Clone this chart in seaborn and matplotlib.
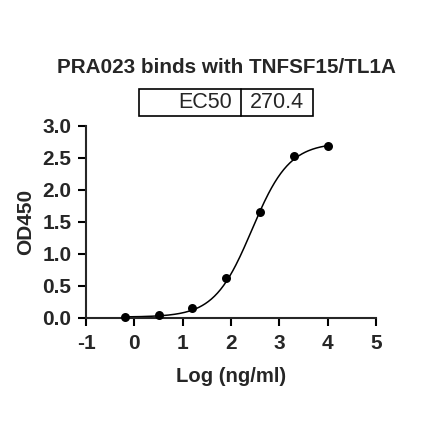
import numpy as np
import pandas as pd
import matplotlib
matplotlib.use("Agg")
import matplotlib.pyplot as plt
from matplotlib.patches import Rectangle
import seaborn as sns

# ── Data ─────────────────────────────────────────────────────────────
log_conc = [-0.2, 0.5, 1.2, 1.9, 2.6, 3.3, 4.0]
od450 = [0.01, 0.04, 0.15, 0.62, 1.65, 2.53, 2.68]

# 4PL fit parameters (EC50 from the chart)
ec50 = 270.4
fit_bottom = 0.01
fit_top = 2.74
fit_hill = 1.12

x_ticks = [-1, 0, 1, 2, 3, 4, 5]
y_ticks = [0.0, 0.5, 1.0, 1.5, 2.0, 2.5, 3.0]

TITLE = "PRA023 binds with TNFSF15/TL1A"
FONT = "Liberation Sans"


def four_pl(x):
    return fit_bottom + (fit_top - fit_bottom) / (1 + 10 ** ((np.log10(ec50) - x) * fit_hill))


def main():
    sns.set_style("ticks")
    plt.rcParams["font.family"] = [FONT, "DejaVu Sans"]

    pts = pd.DataFrame({"x": log_conc, "y": od450})
    xs = np.linspace(min(log_conc), max(log_conc), 200)
    curve = pd.DataFrame({"x": xs, "y": four_pl(xs)})

    fig = plt.figure(figsize=(4.4, 4.41), dpi=100)
    ax = fig.add_axes([0.1955, 0.2796, 0.659, 0.4347])

    sns.lineplot(data=curve, x="x", y="y", color="black", lw=1.1, ax=ax)
    sns.scatterplot(data=pts, x="x", y="y", color="black", s=42,
                    edgecolor="black", linewidth=0, zorder=3, clip_on=False, ax=ax)

    ax.set_xlim(-1, 5); ax.set_ylim(0, 3)
    ax.set_xticks(x_ticks); ax.set_yticks(y_ticks)
    ax.set_xticklabels([str(t) for t in x_ticks], fontsize=15, fontweight="bold")
    ax.set_yticklabels([f"{t:.1f}" for t in y_ticks], fontsize=15, fontweight="bold")
    ax.set_xlabel("Log (ng/ml)", fontsize=14.6, fontweight="bold", labelpad=10)
    ax.set_ylabel("OD450", fontsize=15, fontweight="bold", labelpad=5)
    for s in ["top", "right"]:
        ax.spines[s].set_visible(False)
    for s in ["left", "bottom"]:
        ax.spines[s].set_linewidth(1.5)
    ax.tick_params(width=1.5, length=5.5, color="black")
    ax.tick_params(axis="x", pad=6)
    ax.tick_params(axis="y", pad=5)

    # EC50 table box
    W, H = 440.0, 441.0
    left, mid, right = 139 / W, 241 / W, 313 / W
    top, bot = 1 - 89 / H, 1 - 116 / H

    fig.text((left + right) / 2, 0.846, TITLE, ha="center", va="center",
             fontsize=14.9, fontweight="bold")

    fig.patches.append(Rectangle((left, bot), right - left, top - bot,
                                 transform=fig.transFigure, fill=False,
                                 edgecolor="black", lw=1.2))
    fig.add_artist(plt.Line2D([mid, mid], [bot, top], transform=fig.transFigure,
                              color="black", lw=1.2))
    yc = (top + bot) / 2
    fig.text(mid - 9 / W, yc, "EC50", ha="right", va="center", fontsize=15.5)
    fig.text(mid + 9 / W, yc, f"{ec50}", ha="left", va="center", fontsize=15.5)

    fig.savefig("out.png", dpi=100, facecolor="white")
    plt.close(fig)


if __name__ == "__main__":
    main()
